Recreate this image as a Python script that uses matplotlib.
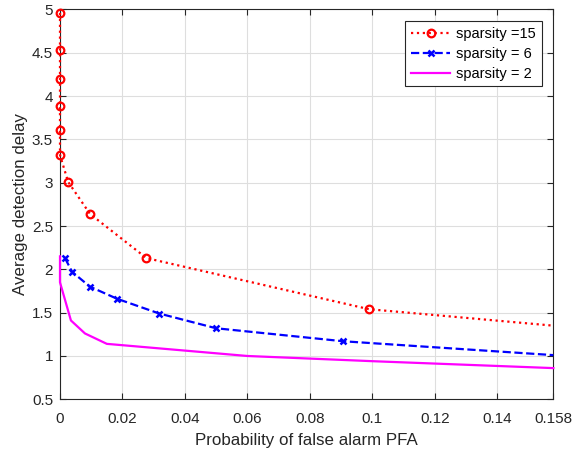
import matplotlib.pyplot as plt

plt.rcParams['font.family'] = ['Liberation Sans', 'DejaVu Sans']

# PFA vs average detection delay for each sparsity level
pfa_s15 = [0.0, 0.0, 0.0, 0.0, 0.0, 0.0, 0.0026, 0.0096, 0.0277, 0.099, 0.158]
add_s15 = [4.96, 4.53, 4.20, 3.89, 3.61, 3.32, 3.01, 2.64, 2.13, 1.54, 1.35]

pfa_s6 = [0.0016, 0.0039, 0.0096, 0.0183, 0.0318, 0.050, 0.0907, 0.158]
add_s6 = [2.13, 1.97, 1.80, 1.66, 1.49, 1.32, 1.17, 1.01]

pfa_s2 = [0.0, 0.0, 0.0035, 0.008, 0.015, 0.06, 0.10, 0.158]
add_s2 = [2.15, 1.85, 1.41, 1.26, 1.14, 1.00, 0.94, 0.86]

x_ticks = [0, 0.02, 0.04, 0.06, 0.08, 0.1, 0.12, 0.14, 0.158]
x_labels = ['0', '0.02', '0.04', '0.06', '0.08', '0.1', '0.12', '0.14', '0.158']
y_ticks = [0.5, 1, 1.5, 2, 2.5, 3, 3.5, 4, 4.5, 5]
y_labels = ['0.5', '1', '1.5', '2', '2.5', '3', '3.5', '4', '4.5', '5']

TXT = '#262626'

fig = plt.figure(figsize=(5.73, 4.54), dpi=100)
ax = fig.add_axes([0.1047, 0.1205, 0.861, 0.8586])

ax.plot(pfa_s15, add_s15, ':', color='#ff0000', lw=1.6, marker='o', ms=5.5,
        mfc='none', mec='#ff0000', mew=1.6, markevery=list(range(10)),
        clip_on=False, zorder=4, label='sparsity =15')
ax.plot(pfa_s6, add_s6, '--', color='#0000ff', lw=1.6, marker='x', ms=4,
        mew=1.8, markevery=list(range(7)), clip_on=False, zorder=3,
        label='sparsity = 6')
ax.plot(pfa_s2, add_s2, '-', color='#ff00ff', lw=1.6, clip_on=False,
        zorder=3, label='sparsity = 2')

ax.set_xlim(0, 0.158)
ax.set_ylim(0.5, 5)
ax.set_xticks(x_ticks)
ax.set_xticklabels(x_labels)
ax.set_yticks(y_ticks)
ax.set_yticklabels(y_labels)

ax.grid(True, color='#dedede', lw=0.8)
ax.set_axisbelow(True)
ax.tick_params(direction='in', top=True, right=True, length=4,
               labelsize=11, labelcolor=TXT, color=TXT)
ax.tick_params(axis='x', pad=9)
ax.tick_params(axis='y', pad=5)
for spine in ax.spines.values():
    spine.set_edgecolor(TXT)
    spine.set_linewidth(0.8)
    spine.set_zorder(2.5)

ax.set_xlabel('Probability of false alarm PFA', fontsize=12.2, color=TXT,
              labelpad=5)
ax.set_ylabel('Average detection delay', fontsize=12.2, color=TXT,
              labelpad=3)

leg = ax.legend(loc='upper right', fontsize=10.5, fancybox=False,
                edgecolor=TXT, framealpha=1, handlelength=2.7,
                borderaxespad=0.8, labelspacing=0.4, handletextpad=0.4)
leg.get_frame().set_linewidth(0.8)
leg.set_zorder(5)

fig.savefig('out.png', dpi=100)
